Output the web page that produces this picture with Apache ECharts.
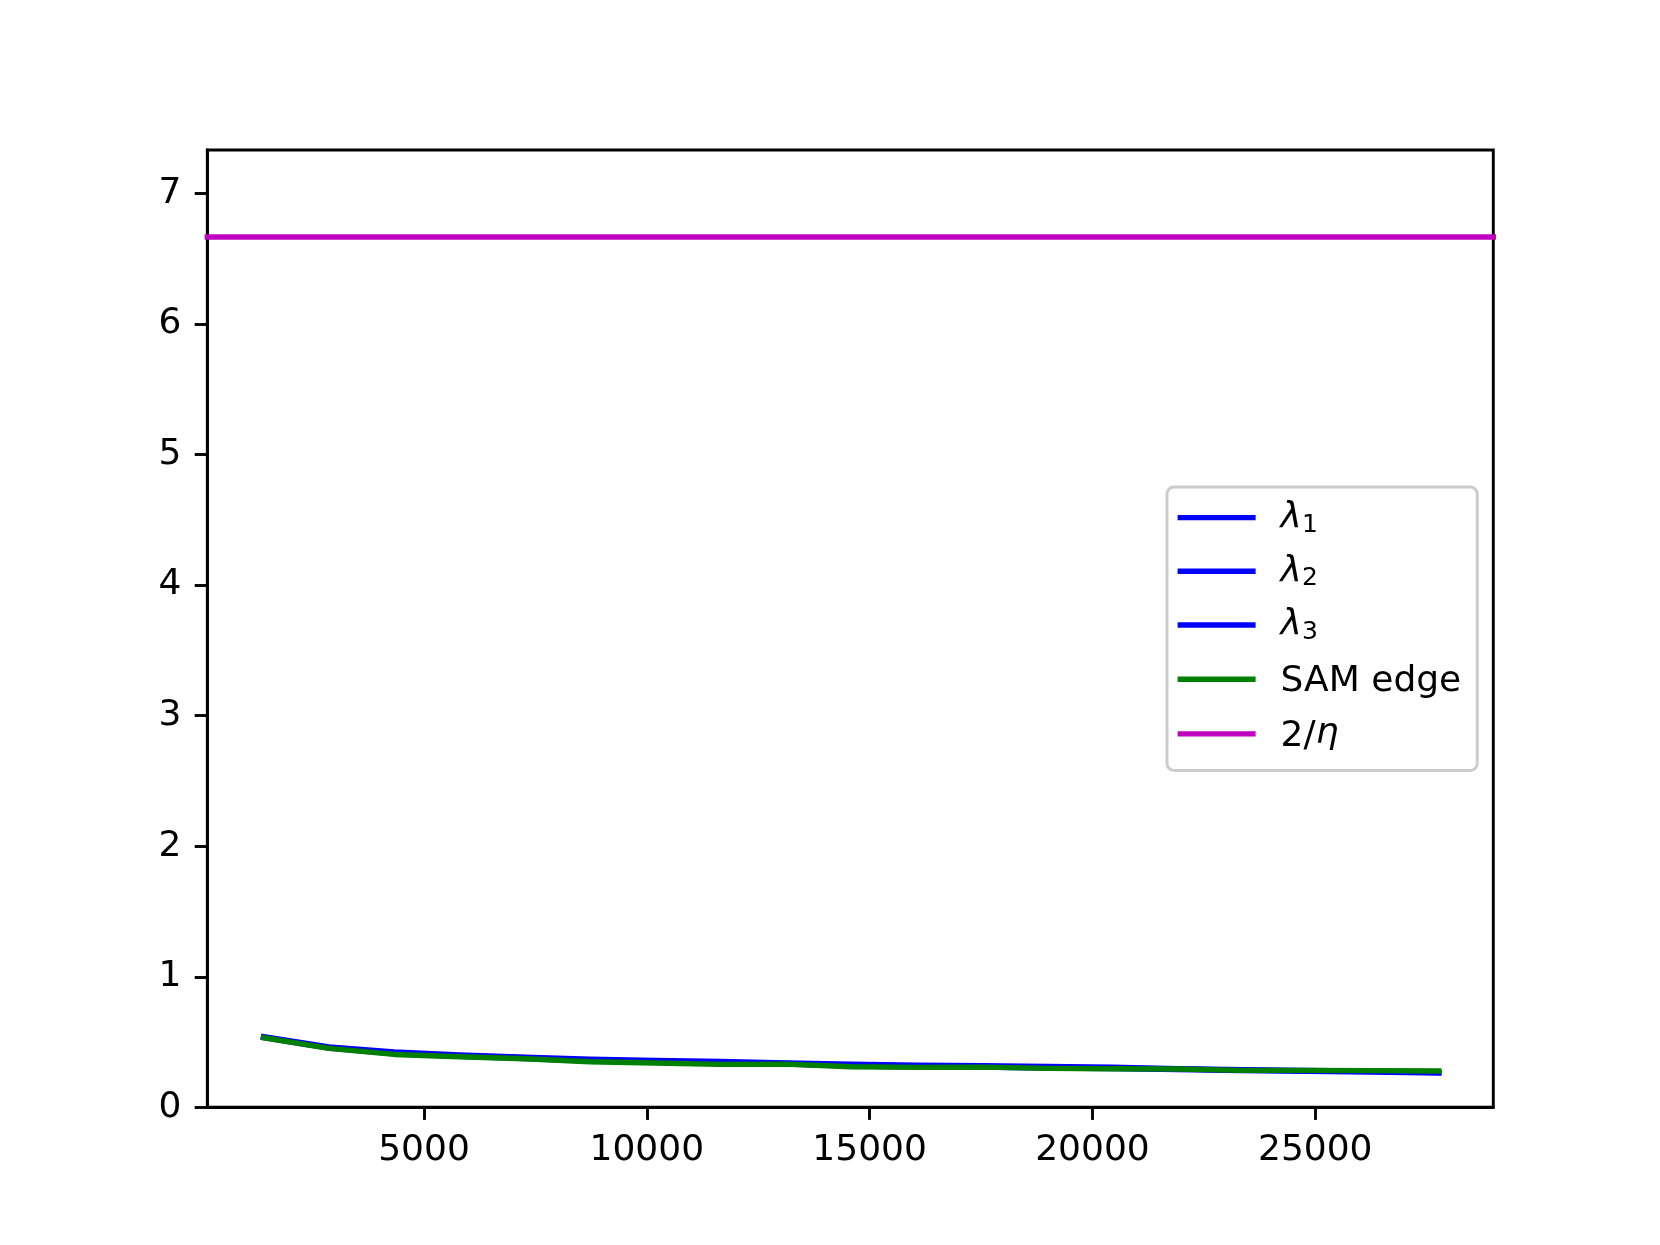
<!DOCTYPE html>
<html>
<head>
<meta charset="utf-8">
<script src="https://cdn.jsdelivr.net/npm/echarts@6/dist/echarts.min.js"></script>
<style>
html,body{margin:0;padding:0;background:#fff;}
#chart{width:1660px;height:1245px;}
</style>
</head>
<body>
<div id="chart"></div>
<script>
// ---- data ----
const steps = [1400, 2865, 4330, 5795, 7260, 8725, 10190, 11655, 13120, 14585, 16050, 17515, 18980, 20445, 21910, 23375, 24840, 26305, 27770];
const lambda1 = [0.541, 0.462, 0.424, 0.401, 0.384, 0.368, 0.358, 0.351, 0.339, 0.331, 0.323, 0.318, 0.313, 0.307, 0.296, 0.288, 0.282, 0.277, 0.270];
const lambda2 = [0.538, 0.457, 0.416, 0.395, 0.379, 0.360, 0.350, 0.341, 0.335, 0.322, 0.315, 0.312, 0.305, 0.300, 0.293, 0.285, 0.279, 0.273, 0.266];
const lambda3 = [0.535, 0.453, 0.410, 0.390, 0.374, 0.354, 0.345, 0.336, 0.332, 0.316, 0.310, 0.309, 0.300, 0.296, 0.289, 0.281, 0.276, 0.270, 0.262];
const samEdge = [0.533, 0.451, 0.405, 0.387, 0.372, 0.349, 0.339, 0.329, 0.331, 0.311, 0.306, 0.308, 0.298, 0.295, 0.293, 0.283, 0.283, 0.281, 0.278];
const twoOverEta = 2 / 0.3;
const xRange = [137, 28996];
const yRange = [0, 7.333];
const xTicks = [5000, 10000, 15000, 20000, 25000];
const yTicks = [0, 1, 2, 3, 4, 5, 6, 7];
const seriesNames = ['λ1', 'λ2', 'λ3', 'SAM edge', '2/η'];

const pair = (xs, ys) => xs.map((x, i) => [x, ys[i]]);
const FONT = 'DejaVu Sans';
const LW = 5.4;

const chart = echarts.init(document.getElementById('chart'));

function mkLine(name, data, color) {
  return {
    name, type: 'line', data, showSymbol: false, symbol: 'none',
    lineStyle: { color, width: LW, cap: 'square', join: 'round' },
    itemStyle: { color },
    emphasis: { disabled: true },
    animation: false
  };
}

const option = {
  animation: false,
  backgroundColor: '#ffffff',
  grid: {
    left: 207.3, top: 150, right: 1660 - 1493.3, bottom: 1245 - 1107.3,
    show: true, borderColor: '#000', borderWidth: 2.9, backgroundColor: 'transparent'
  },
  xAxis: {
    type: 'value', min: xRange[0], max: xRange[1],
    splitLine: { show: false },
    axisLine: { show: true, onZero: false, lineStyle: { color: '#000', width: 2.9 } },
    axisTick: { show: true, customValues: xTicks, length: 12.6, lineStyle: { color: '#000', width: 2.9 } },
    axisLabel: { show: true, customValues: xTicks, margin: 25, color: '#000', fontFamily: FONT, fontSize: 36,
      formatter: v => String(Math.round(v)) }
  },
  yAxis: {
    type: 'value', min: yRange[0], max: yRange[1],
    splitLine: { show: false },
    axisLine: { show: true, onZero: false, lineStyle: { color: '#000', width: 2.9 } },
    axisTick: { show: true, customValues: yTicks, length: 12.6, lineStyle: { color: '#000', width: 2.9 } },
    axisLabel: { show: true, customValues: yTicks, margin: 26, color: '#000', fontFamily: FONT, fontSize: 36,
      padding: [8, 0, 0, 0], formatter: v => String(v) }
  },
  legend: {
    orient: 'vertical',
    left: 1167, top: 487,
    padding: [10.6, 16, 16, 10.6],
    itemGap: 13.7,
    itemWidth: 78, itemHeight: 5.4,
    icon: 'rect',
    backgroundColor: 'rgba(255,255,255,0.8)',
    borderColor: '#cccccc', borderWidth: 3, borderRadius: 7,
    data: seriesNames,
    selectedMode: false,
    formatter: function (name) {
      if (name.charAt(0) === 'λ') return '{it|λ}{sub|' + name.slice(1) + '}';
      if (name === '2/η') return '{n|2/}{it|η}';
      return '{n|' + name + '}';
    },
    textStyle: {
      color: '#000', fontFamily: FONT, fontSize: 36, lineHeight: 40,
      padding: [0, 0, 0, 20],
      rich: {
        n: { fontFamily: FONT, fontSize: 36, lineHeight: 40, color: '#000', padding: [5, 0, 0, 0] },
        it: { fontFamily: FONT, fontSize: 36, fontStyle: 'italic', lineHeight: 40, color: '#000' },
        sub: { fontFamily: FONT, fontSize: 25, lineHeight: 24, verticalAlign: 'bottom', color: '#000' }
      }
    }
  },
  series: [
    mkLine(seriesNames[0], pair(steps, lambda1), '#0000ff'),
    mkLine(seriesNames[1], pair(steps, lambda2), '#0000ff'),
    mkLine(seriesNames[2], pair(steps, lambda3), '#0000ff'),
    mkLine(seriesNames[3], pair(steps, samEdge), '#008000'),
    mkLine(seriesNames[4], [[xRange[0], twoOverEta], [xRange[1], twoOverEta]], '#bf00bf')
  ]
};
chart.setOption(option);
</script>
</body>
</html>
